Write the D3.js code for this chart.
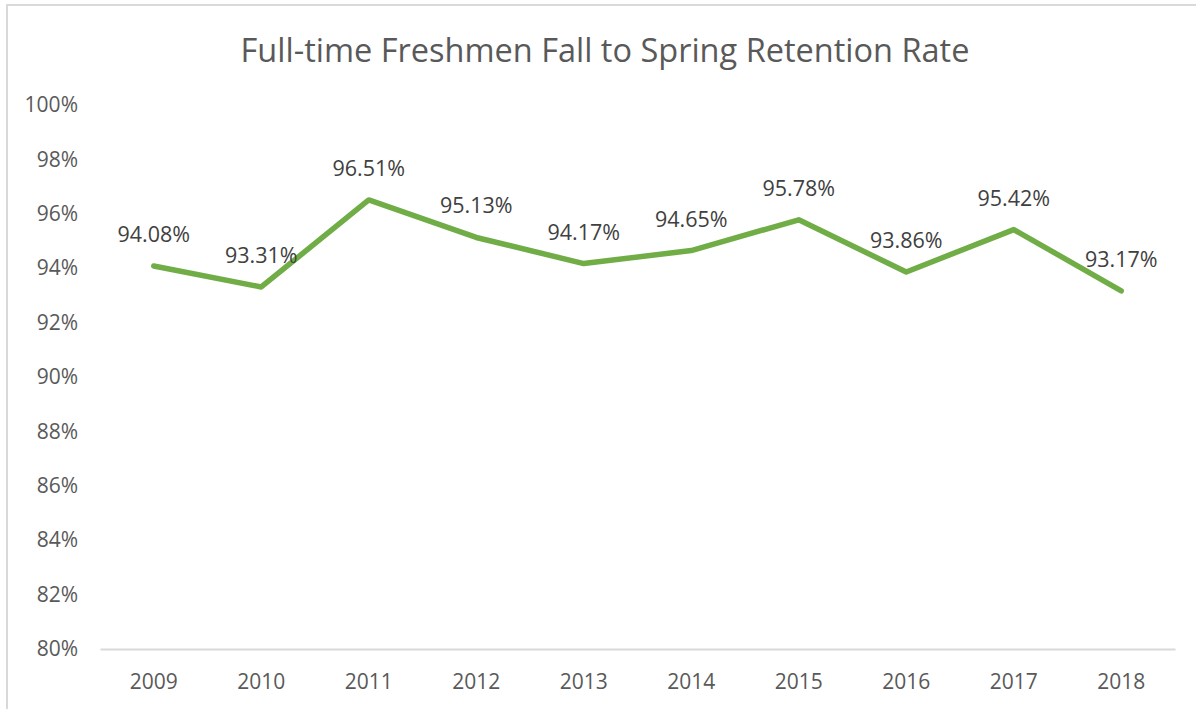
<html>
<head>
    <style>
        body {
            margin: 0;
            background: white;
            font-family: "Open Sans", "Noto Sans", sans-serif;
        }
    </style>
    <script src="https://cdn.jsdelivr.net/npm/d3@7"></script>
</head>
<body>
    <svg id="chart"></svg>
<script>
    let years = ["2009", "2010", "2011", "2012", "2013", "2014", "2015", "2016", "2017", "2018"]
    let rates = [94.08, 93.31, 96.51, 95.13, 94.17, 94.65, 95.78, 93.86, 95.42, 93.17]
    let yTicks = [80, 82, 84, 86, 88, 90, 92, 94, 96, 98, 100]
    let title = "Full-time Freshmen Fall to Spring Retention Rate"

    function configuration() {
        let width = 1196
        let height = 709
        let margin = { top: 105, bottom: 60, left: 100, right: 21 }
        let bodyHeight = height - margin.top - margin.bottom
        let bodyWidth = width - margin.left - margin.right
        let container = d3.select("#chart")
            .attr("width", width)
            .attr("height", height)
        return { width, height, margin, bodyHeight, bodyWidth, container }
    }

    function scales(config) {
        let { bodyWidth, bodyHeight } = config
        let xScale = d3.scaleBand()
            .range([0, bodyWidth])
            .domain(years)
        let yScale = d3.scaleLinear()
            .range([bodyHeight, 0])
            .domain([80, 100])
        return { xScale, yScale }
    }

    function drawFrame(config) {
        let { container, width, height } = config
        container.append("rect")
            .attr("x", 7).attr("y", 5)
            .attr("width", width + 10).attr("height", height + 10)
            .attr("fill", "white")
            .attr("stroke", "#d9d9d9")
            .attr("stroke-width", 2)

        container.append("text")
            .attr("x", 605).attr("y", 62)
            .attr("text-anchor", "middle")
            .attr("font-size", "32.5px")
            .attr("fill", "#595959")
            .text(title)
    }

    function drawAxes(config, s) {
        let { container, margin, bodyHeight } = config
        let { xScale, yScale } = s

        let axisY = d3.axisLeft(yScale)
            .tickValues(yTicks)
            .tickSize(0)
            .tickPadding(22)
            .tickFormat(d => d + "%")
        let gy = container.append("g")
            .attr("transform", `translate(${margin.left},${margin.top})`)
            .call(axisY)
        gy.select(".domain").remove()
        gy.selectAll("text")
            .attr("font-family", "Open Sans")
            .attr("font-size", "21px")
            .attr("fill", "#595959")

        let axisX = d3.axisBottom(xScale)
            .tickSize(0)
            .tickPadding(25)
        let gx = container.append("g")
            .attr("transform", `translate(${margin.left},${margin.top + bodyHeight})`)
            .call(axisX)
        gx.select(".domain")
            .attr("stroke", "#d9d9d9")
            .attr("stroke-width", 2)
        gx.selectAll("text")
            .attr("font-family", "Open Sans")
            .attr("font-size", "21px")
            .attr("fill", "#595959")
    }

    function drawLine(config, s) {
        let { container, margin } = config
        let { xScale, yScale } = s
        let body = container.append("g")
            .attr("transform", `translate(${margin.left},${margin.top})`)

        let cx = d => xScale(d.year) + xScale.bandwidth() / 2
        let data = years.map((y, i) => ({ year: y, value: rates[i] }))

        let line = d3.line()
            .x(cx)
            .y(d => yScale(d.value))

        body.append("path")
            .datum(data)
            .attr("d", line)
            .attr("fill", "none")
            .attr("stroke", "#70ad47")
            .attr("stroke-width", 5.5)
            .attr("stroke-linejoin", "round")
            .attr("stroke-linecap", "round")

        body.selectAll(".label")
            .data(data)
            .enter().append("text")
            .attr("class", "label")
            .attr("x", cx)
            .attr("y", d => yScale(d.value) - 24)
            .attr("text-anchor", "middle")
            .attr("font-size", "21.5px")
            .attr("fill", "#404040")
            .text(d => d.value.toFixed(2) + "%")
    }

    let config = configuration()
    let s = scales(config)
    drawFrame(config)
    drawAxes(config, s)
    drawLine(config, s)
</script>
</body>
</html>
